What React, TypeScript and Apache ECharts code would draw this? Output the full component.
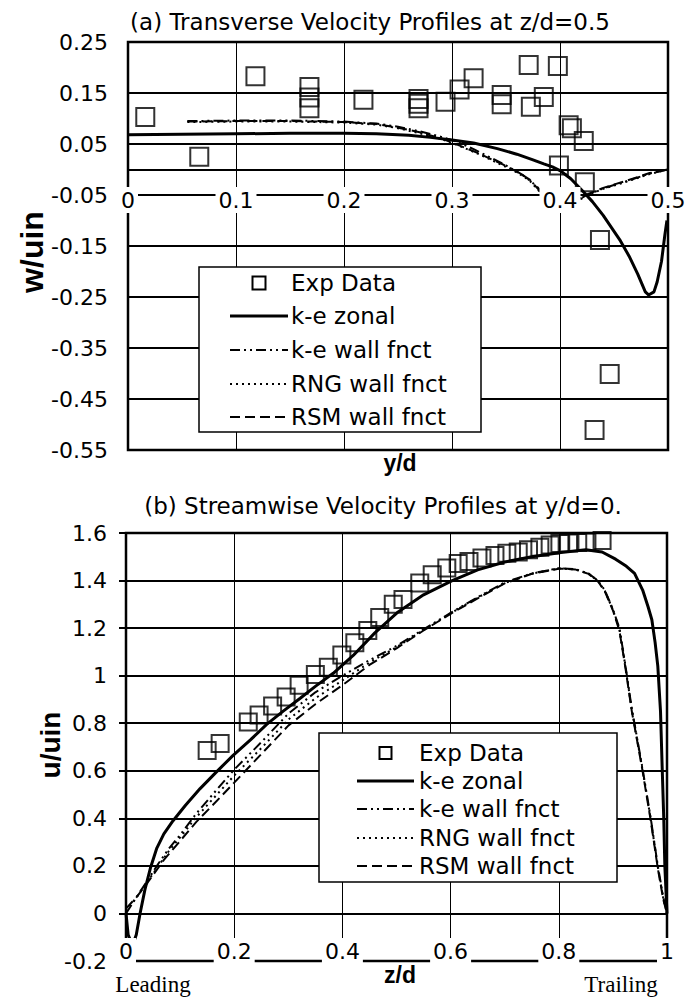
import React, { useEffect, useRef } from "react";
import * as echarts from "echarts";

const SANS = "'DejaVu Sans', sans-serif";
const BOLD = "'Liberation Sans', Arial, sans-serif";
const SERIF = "'Liberation Serif', 'Times New Roman', serif";

// ---------- Panel (a): transverse velocity w/uin vs y/d ----------
const expA: [number, number][] = [
  [0.016, 0.103], [0.066, 0.025], [0.118, 0.183], [0.168, 0.162], [0.168, 0.141], [0.168, 0.12],
  [0.218, 0.137], [0.269, 0.138], [0.269, 0.129], [0.269, 0.12], [0.294, 0.133], [0.307, 0.157],
  [0.32, 0.179], [0.346, 0.146], [0.346, 0.128], [0.371, 0.205], [0.373, 0.123], [0.385, 0.142],
  [0.398, 0.203], [0.408, 0.087], [0.411, 0.081], [0.422, 0.056], [0.399, 0.008], [0.423, -0.025],
  [0.437, -0.138], [0.446, -0.401], [0.432, -0.511],
];
const zonalA: [number, number][] = [
  [0, 0.068], [0.05, 0.069], [0.1, 0.07], [0.15, 0.071], [0.2, 0.071], [0.23, 0.07], [0.26, 0.067],
  [0.28, 0.063], [0.3, 0.058], [0.32, 0.052], [0.342, 0.041], [0.36, 0.03], [0.375, 0.019],
  [0.385, 0.011], [0.393, 0.005], [0.4, -0.002], [0.41, -0.018], [0.421, -0.042], [0.43, -0.063],
  [0.44, -0.09], [0.448, -0.115], [0.456, -0.14], [0.464, -0.17], [0.472, -0.205], [0.479, -0.24],
  [0.482, -0.246], [0.487, -0.24], [0.49, -0.22], [0.494, -0.18], [0.497, -0.13], [0.499, -0.1],
];
const keWallA: [number, number][] = [
  [0.055, 0.095], [0.1, 0.096], [0.15, 0.096], [0.2, 0.094], [0.23, 0.09], [0.25, 0.084], [0.27, 0.075],
  [0.29, 0.064], [0.305, 0.054], [0.32, 0.04], [0.335, 0.024], [0.35, 0.008], [0.365, -0.01],
  [0.378, -0.032], [0.386, -0.05], [0.395, -0.062], [0.405, -0.067], [0.415, -0.062], [0.425, -0.05],
  [0.44, -0.037], [0.46, -0.024], [0.483, -0.008], [0.5, 0.0],
];
const rngWallA: [number, number][] = [
  [0.055, 0.093], [0.1, 0.094], [0.15, 0.094], [0.2, 0.092], [0.23, 0.088], [0.25, 0.081], [0.27, 0.071],
  [0.29, 0.06], [0.3, 0.052], [0.323, 0.032], [0.347, 0.008], [0.362, -0.008], [0.372, -0.022],
  [0.383, -0.048], [0.393, -0.062], [0.404, -0.068], [0.415, -0.063], [0.426, -0.05], [0.44, -0.038],
  [0.46, -0.025], [0.483, -0.009], [0.5, 0.0],
];
const rsmWallA: [number, number][] = [
  [0.055, 0.094], [0.1, 0.095], [0.15, 0.095], [0.2, 0.093], [0.23, 0.089], [0.25, 0.082], [0.27, 0.073],
  [0.29, 0.061], [0.3, 0.053], [0.323, 0.033], [0.347, 0.01], [0.36, -0.004], [0.372, -0.02],
  [0.383, -0.046], [0.392, -0.06], [0.403, -0.067], [0.414, -0.063], [0.425, -0.049], [0.44, -0.036],
  [0.46, -0.023], [0.483, -0.007], [0.5, 0.0],
];

// ---------- Panel (b): streamwise velocity u/uin vs z/d ----------
const expB: [number, number][] = [
  [0.15, 0.685], [0.174, 0.715], [0.226, 0.805], [0.246, 0.835], [0.271, 0.872], [0.296, 0.91],
  [0.32, 0.96], [0.35, 1.005], [0.374, 1.035], [0.399, 1.087], [0.423, 1.138], [0.447, 1.19],
  [0.469, 1.245], [0.494, 1.3], [0.512, 1.32], [0.543, 1.39], [0.566, 1.424], [0.593, 1.453],
  [0.614, 1.472], [0.634, 1.48], [0.658, 1.495], [0.682, 1.505], [0.704, 1.515], [0.725, 1.52],
  [0.744, 1.53], [0.765, 1.54], [0.784, 1.55], [0.802, 1.556], [0.818, 1.558], [0.835, 1.56],
  [0.852, 1.562], [0.88, 1.568],
];
const zonalB: [number, number][] = [
  [0, 0], [0.004, -0.09], [0.012, -0.135], [0.019, -0.09], [0.026, 0], [0.035, 0.1], [0.045, 0.19],
  [0.057, 0.275], [0.07, 0.335], [0.087, 0.39], [0.11, 0.455], [0.137, 0.525], [0.165, 0.59],
  [0.198, 0.665], [0.23, 0.73], [0.26, 0.795], [0.29, 0.85], [0.322, 0.905], [0.35, 0.955],
  [0.383, 1.01], [0.42, 1.085], [0.46, 1.18], [0.503, 1.268], [0.55, 1.34], [0.603, 1.4],
  [0.65, 1.445], [0.7, 1.478], [0.75, 1.5], [0.804, 1.518], [0.85, 1.53], [0.88, 1.52], [0.905, 1.49],
  [0.925, 1.46], [0.94, 1.43], [0.955, 1.36], [0.965, 1.29], [0.972, 1.235], [0.978, 1.14],
  [0.983, 1.04], [0.988, 0.85], [0.991, 0.62], [0.994, 0.4], [0.996, 0.2], [1.0, 0],
];
const keWallB: [number, number][] = [
  [0, 0], [0.02, 0.07], [0.04, 0.14], [0.06, 0.21], [0.08, 0.275], [0.1, 0.33], [0.13, 0.42],
  [0.16, 0.5], [0.2, 0.605], [0.25, 0.72], [0.3, 0.84], [0.35, 0.93], [0.4, 1.0], [0.45, 1.065],
  [0.5, 1.125], [0.55, 1.195], [0.6, 1.264], [0.65, 1.33], [0.7, 1.392], [0.75, 1.43], [0.8, 1.452],
  [0.83, 1.448], [0.855, 1.43], [0.872, 1.4], [0.885, 1.36], [0.9, 1.28], [0.912, 1.2], [0.922, 1.06],
  [0.935, 0.86], [0.954, 0.62], [0.97, 0.4], [0.983, 0.2], [0.993, 0.07], [1.0, 0],
];
const rngWallB: [number, number][] = [
  [0, 0.01], [0.02, 0.07], [0.04, 0.135], [0.06, 0.2], [0.08, 0.265], [0.1, 0.32], [0.13, 0.405],
  [0.16, 0.48], [0.2, 0.58], [0.25, 0.695], [0.3, 0.815], [0.35, 0.905], [0.4, 0.98], [0.45, 1.055],
  [0.5, 1.12], [0.55, 1.192], [0.6, 1.262], [0.65, 1.328], [0.7, 1.39], [0.75, 1.429], [0.8, 1.451],
  [0.83, 1.447], [0.855, 1.429], [0.872, 1.399], [0.885, 1.357], [0.9, 1.277], [0.912, 1.195],
  [0.922, 1.055], [0.935, 0.855], [0.954, 0.615], [0.97, 0.395], [0.983, 0.195], [0.993, 0.065], [1.0, 0],
];
const rsmWallB: [number, number][] = [
  [0, 0.02], [0.02, 0.07], [0.04, 0.13], [0.07, 0.225], [0.1, 0.305], [0.13, 0.385], [0.16, 0.455],
  [0.2, 0.55], [0.25, 0.67], [0.3, 0.79], [0.35, 0.88], [0.4, 0.96], [0.45, 1.045], [0.5, 1.115],
  [0.55, 1.19], [0.6, 1.26], [0.65, 1.325], [0.7, 1.388], [0.75, 1.428], [0.8, 1.45], [0.83, 1.447],
  [0.855, 1.428], [0.872, 1.398], [0.885, 1.355], [0.9, 1.275], [0.912, 1.19], [0.922, 1.05],
  [0.935, 0.85], [0.954, 0.61], [0.97, 0.39], [0.983, 0.19], [0.993, 0.06], [1.0, 0],
];

const legendNames = ["Exp Data", "k-e zonal", "k-e wall fnct", "RNG wall fnct", "RSM wall fnct"];

const DASH_KE = [10, 4, 2, 4, 2, 4];
const DASH_RNG = [2, 4];
const DASH_RSM = [10, 5];

function lineSeries(data: [number, number][], idx: number, width: number, dash: number[] | "solid", extra: any = {}) {
  return {
    type: "line",
    xAxisIndex: idx,
    yAxisIndex: idx,
    data,
    symbol: "none",
    showSymbol: false,
    z: 2,
    lineStyle: { color: "#000", width, type: dash },
    ...extra,
  };
}

function expSeries(data: [number, number][], idx: number, size: number) {
  return {
    type: "scatter",
    xAxisIndex: idx,
    yAxisIndex: idx,
    data,
    symbol: "rect",
    symbolSize: size,
    z: 3,
    itemStyle: { color: "rgba(0,0,0,0)", borderColor: "#000", borderWidth: 2 },
  };
}

function legendBox(x: number, y: number, w: number, h: number, rows: number[], lineX1: number, lineX2: number, textX: number, sq: number, fontSize: number) {
  const els: any[] = [];
  els.push({ type: "rect", z: 20, shape: { x, y, width: w, height: h }, style: { fill: "#fff", stroke: "#000", lineWidth: 1.5 } });
  const cx = (lineX1 + lineX2) / 2;
  els.push({ type: "rect", z: 21, shape: { x: cx - sq / 2, y: rows[0] - sq / 2, width: sq, height: sq }, style: { fill: "none", stroke: "#000", lineWidth: 2 } });
  const styles: [number, number[] | null][] = [[3, null], [1.8, DASH_KE], [1.8, DASH_RNG], [1.8, DASH_RSM]];
  styles.forEach(([lw, dash], i) => {
    els.push({ type: "line", z: 21, shape: { x1: lineX1, y1: rows[i + 1], x2: lineX2, y2: rows[i + 1] }, style: { stroke: "#000", lineWidth: lw, lineDash: dash || undefined } });
  });
  legendNames.forEach((name, i) => {
    els.push({ type: "text", z: 21, x: textX, y: rows[i], style: { text: name, fontSize, fontFamily: SANS, fill: "#000", textAlign: "left", textVerticalAlign: "middle" } });
  });
  return els;
}

function txt(text: string, x: number, y: number, fontSize: number, family: string, weight = "normal", rotation = 0) {
  return { type: "text", z: 20, x, y, rotation, style: { text, fontSize, fontFamily: family, fontWeight: weight, fill: "#000", textAlign: "center", textVerticalAlign: "middle" } };
}

const tickLabel = { color: "#000", fontSize: 22, fontFamily: SANS };

export default function App() {
  const ref = useRef<HTMLDivElement>(null);
  useEffect(() => {
    document.body.style.margin = "0";
    const chart = echarts.init(ref.current!, null, { renderer: "svg" });
    const option: any = {
      animation: false,
      backgroundColor: "#fff",
      textStyle: { fontFamily: SANS },
      grid: [
        { left: 128, top: 42, width: 540, height: 408, show: true, borderColor: "#000", borderWidth: 2.5, backgroundColor: "rgba(0,0,0,0)" },
        { left: 126, top: 533, width: 541, height: 428, show: true, borderColor: "#000", borderWidth: 2.5, backgroundColor: "rgba(0,0,0,0)" },
      ],
      xAxis: [
        {
          gridIndex: 0, type: "value", min: 0, max: 0.5, interval: 0.1, z: 5,
          axisLine: { show: false, onZero: false },
          axisTick: { show: false },
          axisLabel: { ...tickLabel, inside: true, margin: 237, backgroundColor: "#fff", padding: [2, 3], lineHeight: 22 },
          splitLine: { show: true, lineStyle: { color: "#000", width: 1 } },
        },
        {
          gridIndex: 1, type: "value", min: 0, max: 1, interval: 0.2, z: 5,
          axisLine: { show: false, onZero: false },
          axisTick: { show: false },
          axisLabel: { ...tickLabel, inside: true, margin: -3, backgroundColor: "#fff", padding: [2, 3], lineHeight: 22 },
          splitLine: { show: true, lineStyle: { color: "#000", width: 1 } },
        },
      ],
      yAxis: [
        {
          gridIndex: 0, type: "value", min: -0.55, max: 0.25, interval: 0.05,
          axisLine: { show: false },
          axisTick: { show: false },
          axisLabel: {
            ...tickLabel, margin: 20,
            formatter: (v: number) => (Math.round((v + 0.55) / 0.05) % 2 === 0 ? v.toFixed(2) : ""),
          },
          splitLine: { show: true, lineStyle: { color: ["#000", "rgba(0,0,0,0)"], width: 2 } },
        },
        {
          gridIndex: 1, type: "value", min: -0.2, max: 1.6, interval: 0.2,
          axisLine: { show: false },
          axisTick: { show: true, length: 7, lineStyle: { color: "#000", width: 2 } },
          axisLabel: { ...tickLabel, margin: 19 },
          splitLine: { show: true, lineStyle: { color: "#000", width: 2 } },
        },
      ],
      series: [
        lineSeries(zonalA, 0, 3, "solid", {
          markLine: {
            silent: true, symbol: "none", label: { show: false }, z: 1,
            lineStyle: { color: "#000", width: 2, type: "solid" },
            data: [{ yAxis: 0 }],
          },
        }),
        lineSeries(keWallA, 0, 2, DASH_KE),
        lineSeries(rngWallA, 0, 2, DASH_RNG),
        lineSeries(rsmWallA, 0, 2, DASH_RSM),
        expSeries(expA, 0, 18),
        lineSeries(zonalB, 1, 3, "solid"),
        lineSeries(keWallB, 1, 2, DASH_KE),
        lineSeries(rngWallB, 1, 2, DASH_RNG),
        lineSeries(rsmWallB, 1, 2, DASH_RSM),
        expSeries(expB, 1, 17),
      ],
      graphic: [
        txt("(a) Transverse Velocity Profiles at z/d=0.5", 370, 22, 23, SANS),
        txt("(b) Streamwise Velocity Profiles at y/d=0.", 383, 506, 23, SANS),
        txt("w/uin", 32, 252, 32, BOLD, "bold", Math.PI / 2),
        txt("y/d", 400, 463, 23, BOLD, "bold"),
        txt("u/uin", 50, 745, 28, BOLD, "bold", Math.PI / 2),
        txt("z/d", 400, 975, 23, BOLD, "bold"),
        txt("Leading", 153, 984, 23, SERIF),
        txt("Trailing", 621, 984, 23, SERIF),
        ...legendBox(199, 267, 282, 165, [283, 316, 350, 384, 417], 230, 288, 291, 13, 23),
        ...legendBox(319, 733, 298, 149, [753, 781, 809, 838, 866], 357, 414, 419, 12, 23),
      ],
    };
    chart.setOption(option);
    return () => chart.dispose();
  }, []);
  return <div ref={ref} style={{ width: 695, height: 998 }} />;
}
